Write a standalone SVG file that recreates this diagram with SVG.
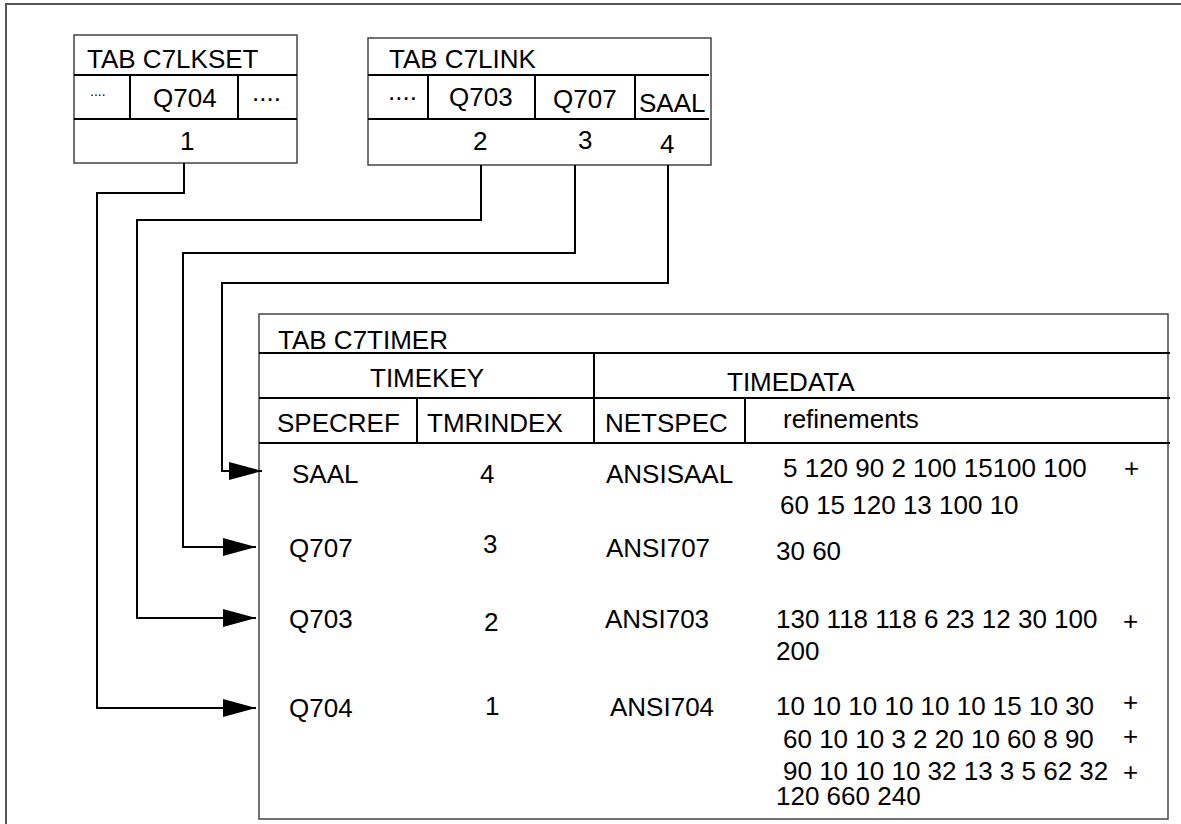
<svg xmlns="http://www.w3.org/2000/svg" width="1181" height="824" viewBox="0 0 1181 824">
<style>
text{font-family:"Liberation Sans",Arial,sans-serif;font-size:26px;fill:#000}
.sm{font-size:14px}
.box{fill:#fff;stroke:#444;stroke-width:1.5}
.ln{stroke:#000;stroke-width:2;fill:none}
.con{stroke:#000;stroke-width:2;fill:none;marker-end:url(#arr)}
</style>
<defs>
<marker id="arr" markerUnits="userSpaceOnUse" markerWidth="34" markerHeight="20" refX="33" refY="10" orient="auto">
<path d="M0,1 L33,10 L0,19 z" fill="#000"/>
</marker>
</defs>
<rect width="1181" height="824" fill="#fff"/>
<path d="M6,830 V4 H1190" fill="none" stroke="#555" stroke-width="2"/>

<g id="c7lkset">
<rect class="box" x="74" y="35" width="223" height="128"/>
<path class="ln" d="M74,75 H297 M74,119 H297 M130,75 V119 M238,75 V119"/>
<text x="87" y="68">TAB C7LKSET</text>
<text class="sm" x="90" y="96">....</text>
<text x="153" y="107">Q704</text>
<text x="252" y="101">....</text>
<text x="180" y="150">1</text>
</g>

<g id="c7link">
<rect class="box" x="368" y="38" width="343" height="127"/>
<path class="ln" d="M368,75 H709 M368,119 H709 M428,75 V119 M535,75 V119 M635,75 V119"/>
<text x="389" y="68">TAB C7LINK</text>
<text x="388" y="100">....</text>
<text x="449" y="106">Q703</text>
<text x="553" y="108">Q707</text>
<text x="639" y="112">SAAL</text>
<text x="473" y="150">2</text>
<text x="578" y="149">3</text>
<text x="660" y="153">4</text>
</g>

<g id="c7timer">
<rect class="box" x="259" y="314" width="909" height="505"/>
<path class="ln" d="M259,353 H1170 M259,398 H1170 M259,443 H1170 M594,353 V443 M417,398 V443 M745,398 V443"/>
<text x="278" y="349">TAB C7TIMER</text>
<text x="370" y="387">TIMEKEY</text>
<text x="727" y="391">TIMEDATA</text>
<text x="277" y="432">SPECREF</text>
<text x="427" y="432">TMRINDEX</text>
<text x="605" y="432">NETSPEC</text>
<text x="783" y="428">refinements</text>

<text x="292" y="483">SAAL</text>
<text x="480" y="483">4</text>
<text x="606" y="483">ANSISAAL</text>
<text x="783" y="477">5 120 90 2 100 15100 100</text>
<text x="1124" y="477">+</text>
<text x="780" y="514">60 15 120 13 100 10</text>

<text x="289" y="557">Q707</text>
<text x="483" y="553">3</text>
<text x="606" y="557">ANSI707</text>
<text x="776" y="560">30 60</text>

<text x="289" y="628">Q703</text>
<text x="484" y="631">2</text>
<text x="605" y="628">ANSI703</text>
<text x="776" y="628">130 118 118 6 23 12 30 100</text>
<text x="1123" y="630">+</text>
<text x="776" y="660">200</text>

<text x="289" y="717">Q704</text>
<text x="485" y="715">1</text>
<text x="610" y="716">ANSI704</text>
<text x="776" y="715">10 10 10 10 10 10 15 10 30</text>
<text x="1123" y="711">+</text>
<text x="783" y="748">60 10 10 3 2 20 10 60 8 90</text>
<text x="1123" y="745">+</text>
<text x="783" y="780">90 10 10 10 32 13 3 5 62 32</text>
<text x="1123" y="781">+</text>
<text x="776" y="805">120 660 240</text>
</g>

<g id="connectors">
<path class="con" d="M184,163 V193 H97 V708 H256"/>
<path class="con" d="M481,165 V220 H137 V618 H256"/>
<path class="con" d="M575,165 V253 H183 V547 H256"/>
<path class="con" d="M668,165 V283 H222 V471 H262"/>
</g>
</svg>
